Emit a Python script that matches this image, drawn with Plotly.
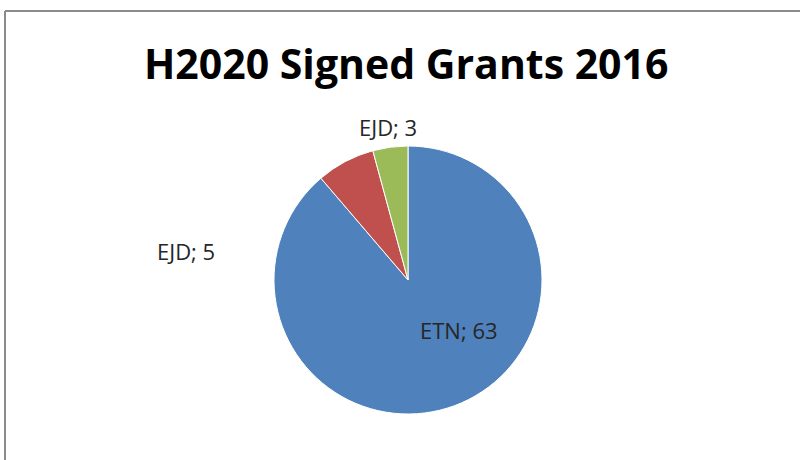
import plotly.graph_objects as go

categories = ["ETN", "EJD", "EJD"]
values = [63, 5, 3]
colors = ["#4F81BD", "#C0504D", "#9BBB59"]
label_texts = [f"{c}; {v}" for c, v in zip(categories, values)]

W, H = 800, 460
cx, cy, r = 408, 280, 134

fig = go.Figure(go.Pie(
    labels=["ETN", "EJD (5)", "EJD (3)"],
    values=values,
    sort=False,
    direction="clockwise",
    rotation=0,
    marker=dict(colors=colors, line=dict(color="white", width=1)),
    textinfo="none",
    hoverinfo="label+value",
    showlegend=False,
    domain=dict(x=[(cx - r) / W, (cx + r) / W], y=[1 - (cy + r) / H, 1 - (cy - r) / H]),
))

label_pos = [(459, 330), (186, 251), (388, 127)]
annotations = []
for t, (x, y) in zip(label_texts, label_pos):
    annotations.append(dict(
        text=t, x=x / W, y=1 - y / H, xref="paper", yref="paper",
        showarrow=False, xanchor="center", yanchor="middle",
        font=dict(family="Open Sans", size=22, color="#262626"),
    ))
annotations.append(dict(
    text="<b>H2020 Signed Grants 2016</b>", x=406 / W, y=1 - 63 / H,
    xref="paper", yref="paper", showarrow=False, xanchor="center", yanchor="middle",
    font=dict(family="Open Sans", size=41, color="#000000"),
))

fig.update_layout(
    width=W, height=H,
    margin=dict(l=0, r=0, t=0, b=0),
    paper_bgcolor="white",
    plot_bgcolor="white",
    annotations=annotations,
    shapes=[
        dict(type="line", xref="paper", yref="paper", x0=5 / W, x1=1.01, y0=1 - 11 / H, y1=1 - 11 / H,
             line=dict(color="#8C8C8C", width=2)),
        dict(type="line", xref="paper", yref="paper", x0=5 / W, x1=5 / W, y0=1 - 11 / H, y1=-0.01,
             line=dict(color="#8C8C8C", width=2)),
    ],
)

fig.write_html("out.html", config={"displayModeBar": False},
               post_script="document.body.style.margin='0';document.body.style.overflow='hidden';")
